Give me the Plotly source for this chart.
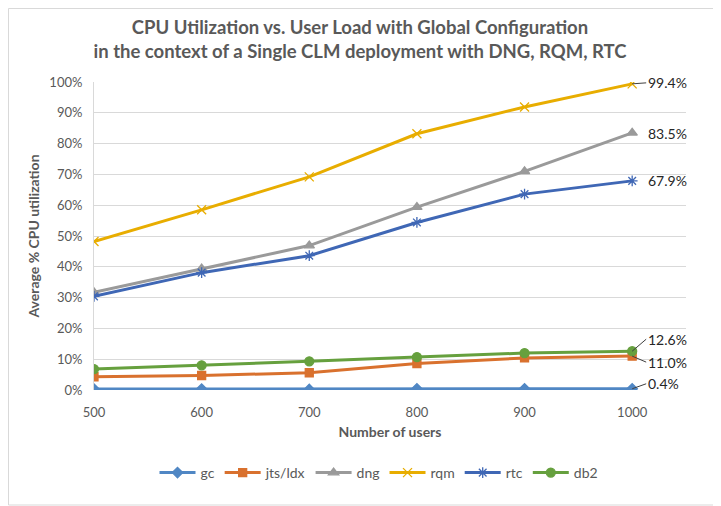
import plotly.graph_objects as go

users = [500, 600, 700, 800, 900, 1000]
gc = [0.3, 0.3, 0.2, 0.4, 0.4, 0.4]
jts_ldx = [4.3, 4.7, 5.6, 8.6, 10.4, 11.0]
dng = [31.7, 39.4, 46.9, 59.4, 71.0, 83.5]
rqm = [48.2, 58.5, 69.2, 83.2, 91.9, 99.4]
rtc = [30.4, 38.1, 43.6, 54.4, 63.6, 67.9]
db2 = [6.8, 8.0, 9.3, 10.7, 12.0, 12.6]

series = [
    ("gc", gc, "#5087c4", "diamond", 8),
    ("jts/ldx", jts_ldx, "#d9712e", "square", 8),
    ("dng", dng, "#9a9a9a", "triangle-up", 9),
    ("rqm", rqm, "#e8ad00", "x-thin-open", 9),
    ("rtc", rtc, "#3f67b5", "asterisk-open", 9),
    ("db2", db2, "#66a03e", "circle", 9),
]

fig = go.Figure()
for name, vals, color, sym, size in series:
    fig.add_trace(go.Scatter(
        x=users, y=[v / 100 for v in vals], name=name, mode="lines+markers",
        line=dict(color=color, width=3),
        marker=dict(symbol=sym, size=size, color=color,
                    line=dict(color=color, width=1.3)),
    ))

# end-point data labels
label_offsets = {"gc": (-5, True), "jts/ldx": (6, True), "dng": (1, False),
                 "rqm": (-1, True), "rtc": (0, False), "db2": (-12, True)}
for name, vals, color, sym, size in series:
    ay, arrow = label_offsets[name]
    fig.add_annotation(
        x=users[-1], y=vals[-1] / 100, xref="x", yref="y",
        text=f"{vals[-1]:.1f}%", showarrow=True, arrowhead=0,
        arrowwidth=1, arrowcolor="#404040" if arrow else "rgba(0,0,0,0)",
        ax=14, ay=ay, xanchor="left", yanchor="middle",
        font=dict(family="Lato, Open Sans, sans-serif", size=14, color="#262626"),
    )

# page body adds an 8px offset; positions below compensate for it
OFF = 8
W, H = 721, 506
L = 94 - OFF
T = 82 - OFF
pw, ph = 592, 308
R = W - L - pw
B = H - T - ph

# chart border
fig.add_shape(type="rect", xref="paper", yref="paper",
              x0=(0.5 - L) / pw, x1=(720 - OFF - L) / pw,
              y0=-(505 - OFF - (T + ph)) / ph, y1=(T + ph - 0.5) / ph,
              line=dict(color="#d9d9d9", width=1), fillcolor="rgba(0,0,0,0)", layer="below")

fig.update_layout(
    width=W, height=H,
    margin=dict(l=L, r=R, t=T, b=B, autoexpand=False),
    paper_bgcolor="white", plot_bgcolor="white",
    font=dict(family="Lato, Open Sans, sans-serif", color="#595959", size=13),
    title=dict(
        text="CPU Utilization vs. User Load with Global Configuration<br>in the context of a Single CLM deployment with DNG, RQM, RTC",
        x=(360 - OFF) / W, xanchor="center", y=1 - 26 / H, yanchor="top",
        font=dict(family="Lato, Open Sans, sans-serif", size=18.5, color="#595959", weight="bold"),
        automargin=False,
    ),
    xaxis=dict(
        range=[500, 1050], tickvals=users, ticktext=[str(u) for u in users],
        showgrid=False, zeroline=False, showline=False, automargin=False,
        title=dict(text="<b>Number of users</b>", font=dict(size=14, color="#595959"), standoff=8),
        tickfont=dict(size=13, color="#595959"),
        ticklabelstandoff=13,
    ),
    yaxis=dict(
        range=[0, 1.0], dtick=0.1, tickformat=".0%",
        showgrid=True, gridcolor="#d9d9d9", gridwidth=1, zeroline=False,
        showline=True, linecolor="#d9d9d9", linewidth=1, automargin=False,
        title=dict(text="<b>Average % CPU utilization</b>", font=dict(size=14, color="#595959"), standoff=6),
        tickfont=dict(size=13, color="#595959"),
        ticks="", ticklabelstandoff=8,
    ),
    legend=dict(orientation="h", x=(379 - OFF - L) / pw, xanchor="center",
                y=-(473 - OFF - (T + ph)) / ph, yanchor="middle",
                font=dict(size=14, color="#595959"), itemwidth=36),
    showlegend=True,
)

fig.write_html("out.html")
